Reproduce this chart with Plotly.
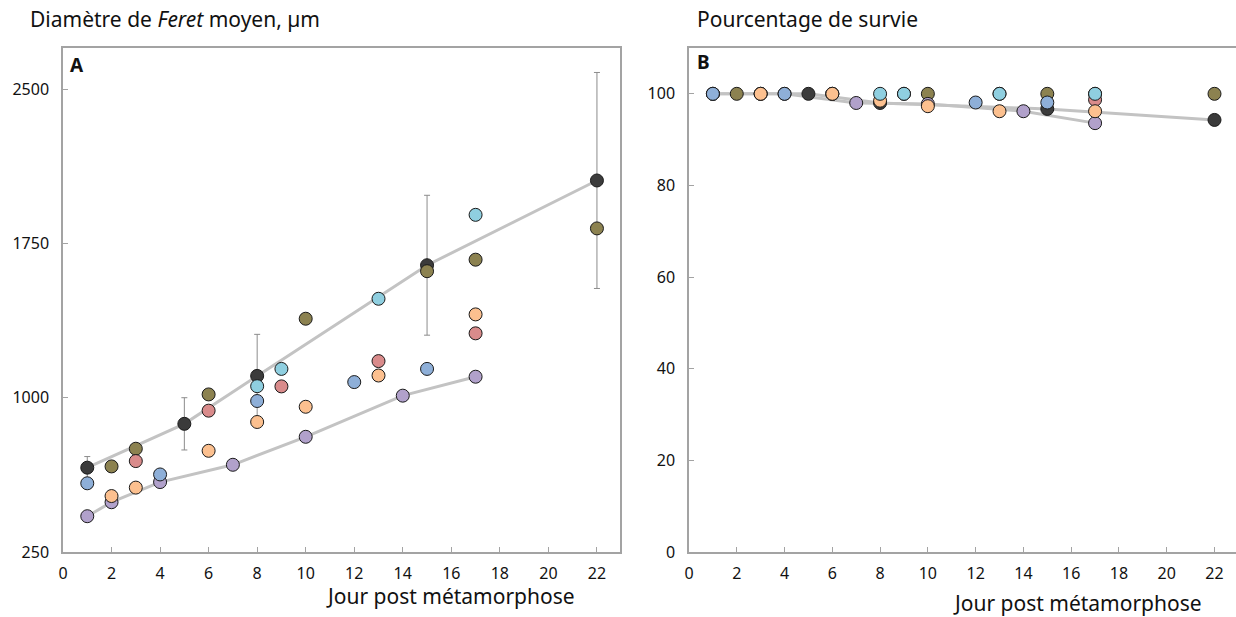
import plotly.graph_objects as go

# ---------------- data ----------------
# Panel A: mean Feret diameter (µm)
days_black = [1, 5, 8, 15, 22]
feret_black = [660, 873, 1106, 1644, 2056]
feret_black_err = [54, 127, 202, 340, 525]

days_olive = [2, 3, 6, 10, 15, 17, 22]
feret_olive = [666, 752, 1016, 1384, 1615, 1671, 1823]

days_red = [3, 6, 9, 13, 17]
feret_red = [692, 937, 1055, 1178, 1313]

days_orange = [2, 3, 6, 8, 10, 13, 17]
feret_orange = [522, 563, 742, 882, 956, 1108, 1405]

days_blue = [1, 4, 8, 12, 15]
feret_blue = [584, 627, 984, 1076, 1140]

days_cyan = [8, 9, 13, 17]
feret_cyan = [1056, 1140, 1481, 1889]

days_purple = [1, 2, 4, 7, 10, 14, 17]
feret_purple = [424, 492, 590, 674, 810, 1010, 1102]

# Panel B: survival (%)
sdays_black = [1, 5, 8, 15, 22]
surv_black = [100, 100, 98.0, 96.7, 94.3]

sdays_olive = [2, 3, 6, 10, 15, 17, 22]
surv_olive = [100, 100, 100, 100, 100, 100, 100]

sdays_red = [3, 6, 9, 13, 17]
surv_red = [100, 100, 100, 100, 98.7]

sdays_orange = [3, 6, 8, 10, 13, 17]
surv_orange = [100, 100, 98.5, 97.3, 96.2, 96.2]

sdays_blue = [1, 4, 12, 15]
surv_blue = [100, 100, 98.1, 98.1]

sdays_cyan = [8, 9, 13, 17]
surv_cyan = [100, 100, 100, 100]

sdays_purple = [1, 4, 7, 10, 14, 17]
surv_purple = [100, 100, 98.0, 97.8, 96.2, 93.6]

x_ticks = [0, 2, 4, 6, 8, 10, 12, 14, 16, 18, 20, 22]
yA_ticks = [250, 1000, 1750, 2500]
yB_ticks = [0, 20, 40, 60, 80, 100]

# ---------------- styling ----------------
COL = {
    "black": "#3b3b3b",
    "olive": "#8c8250",
    "red": "#d98b8b",
    "purple": "#b1a1cb",
    "orange": "#fcc08f",
    "blue": "#8eafd8",
    "cyan": "#8fcfe0",
}
FONT = "Noto Sans"
LINE_COL = "#c3c3c3"
AX_COL = "#a3a3a3"

fig = go.Figure()

def marker(c):
    return dict(size=13, color=COL[c], line=dict(color="#1a1a1a", width=1))

# trend lines (drawn first, under markers)
for xs, ys, xa, ya in [(days_black, feret_black, "x", "y"),
                       (days_purple, feret_purple, "x", "y"),
                       (sdays_black, surv_black, "x2", "y2"),
                       (sdays_purple, surv_purple, "x2", "y2")]:
    fig.add_trace(go.Scatter(x=xs, y=ys, mode="lines",
                             line=dict(color=LINE_COL, width=3), xaxis=xa, yaxis=ya,
                             hoverinfo="skip", showlegend=False))

panelA = [
    ("black", days_black, feret_black),
    ("olive", days_olive, feret_olive),
    ("red", days_red, feret_red),
    ("purple", days_purple, feret_purple),
    ("orange", days_orange, feret_orange),
    ("blue", days_blue, feret_blue),
    ("cyan", days_cyan, feret_cyan),
]
for c, xs, ys in panelA:
    kw = {}
    if c == "black":
        kw["error_y"] = dict(type="data", array=feret_black_err, visible=True,
                             color="#8c8c8c", thickness=1, width=3)
    fig.add_trace(go.Scatter(x=xs, y=ys, mode="markers", marker=marker(c),
                             xaxis="x", yaxis="y", showlegend=False, name=c, **kw))

panelB = [
    ("black", sdays_black, surv_black),
    ("olive", sdays_olive, surv_olive),
    ("red", sdays_red, surv_red),
    ("purple", sdays_purple, surv_purple),
    ("orange", sdays_orange, surv_orange),
    ("blue", sdays_blue, surv_blue),
    ("cyan", sdays_cyan, surv_cyan),
]
for c, xs, ys in panelB:
    fig.add_trace(go.Scatter(x=xs, y=ys, mode="markers", marker=marker(c),
                             xaxis="x2", yaxis="y2", showlegend=False, name=c))

W, H = 1236, 617
ML, MR, MT, MB = 63, 0, 48, 65
PW = W - ML - MR
PH = H - MT - MB

def px(x):
    return (x - ML) / PW

def py(y):
    return (H - MB - y) / PH

axis_common = dict(showgrid=False, zeroline=False, showline=True, linecolor=AX_COL,
                   linewidth=1.5, ticks="inside", ticklen=5, tickcolor=AX_COL,
                   tickwidth=1, tickfont=dict(family=FONT, size=16, color="#111"))

fig.update_layout(
    width=W, height=H,
    margin=dict(l=ML, r=MR, t=MT, b=MB),
    paper_bgcolor="white", plot_bgcolor="white",
    font=dict(family=FONT, color="#111"),
    xaxis=dict(domain=[0, px(620)], range=[0, 22.95], tickvals=x_ticks,
               mirror=True, anchor="y", ticklabelstandoff=6, **axis_common),
    yaxis=dict(domain=[0, 1], range=[250, 2700], tickvals=yA_ticks,
               mirror=True, anchor="x", ticklabelstandoff=9, **axis_common),
    xaxis2=dict(domain=[px(689), 1], range=[0, 22.9], tickvals=x_ticks,
                mirror=True, anchor="y2", ticklabelstandoff=6, **axis_common),
    yaxis2=dict(domain=[0, 1], range=[0, 110], tickvals=yB_ticks,
                anchor="x2", ticklabelstandoff=9, **axis_common),
)

ann = [
    dict(text="Diamètre de <i>Feret</i> moyen, µm", x=px(28), y=py(19),
         xanchor="left", yanchor="middle", font=dict(size=21)),
    dict(text="Pourcentage de survie", x=px(695), y=py(19),
         xanchor="left", yanchor="middle", font=dict(size=21)),
    dict(text="<b>A</b>", x=px(68), y=py(65), xanchor="left", yanchor="middle",
         font=dict(size=19)),
    dict(text="<b>B</b>", x=px(695), y=py(62), xanchor="left", yanchor="middle",
         font=dict(size=19)),
    dict(text="Jour post métamorphose", x=px(450), y=py(596),
         xanchor="center", yanchor="middle", font=dict(size=21)),
    dict(text="Jour post métamorphose", x=px(1077), y=py(603),
         xanchor="center", yanchor="middle", font=dict(size=21)),
]
for a in ann:
    a.update(xref="paper", yref="paper", showarrow=False)
    a["font"].update(family=FONT, color="#111")
fig.update_layout(annotations=ann)

fig.write_html("out.html", config={"displayModeBar": False},
               post_script="document.body.style.margin='0px';document.body.style.padding='0px';")
